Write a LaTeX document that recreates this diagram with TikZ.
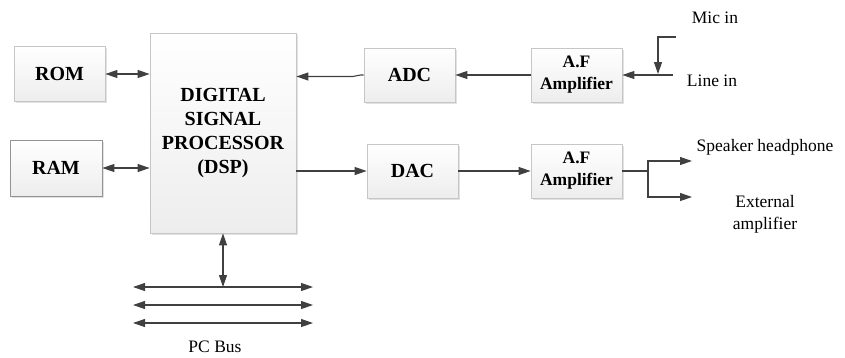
\documentclass[tikz,border=0pt]{standalone}
\usepackage{fontspec}
\setmainfont{Liberation Serif}
\usetikzlibrary{arrows.meta,shadows}
\definecolor{linec}{HTML}{404040}
\tikzset{
  blk/.style={draw=gray!45, line width=0.8pt, top color=white, bottom color=gray!14,
    drop shadow={shadow xshift=1.5pt, shadow yshift=-1.5pt, fill=gray!45, opacity=0.5},
    align=center, inner sep=0pt, font=\bfseries\fontsize{20}{24}\selectfont},
  afblk/.style={blk, font=\bfseries\fontsize{17.5}{22}\selectfont},
  lbl/.style={font=\fontsize{17.5}{22}\selectfont, align=center, inner sep=0pt},
  arr/.style={draw=linec, line width=1.1pt, -{Triangle[length=12pt,width=8pt]}},
  darr/.style={draw=linec, line width=1.1pt, {Triangle[length=12pt,width=8pt]}-{Triangle[length=12pt,width=8pt]}},
  ln/.style={draw=linec, line width=1.1pt}
}
\begin{document}
\begin{tikzpicture}[x=1pt,y=-1pt]
\useasboundingbox (0,0) rectangle (845,357);
\node[blk, minimum width=91pt, minimum height=55pt] (rom) at (59.5,74) {ROM};
\node[blk, draw=gray!85, minimum width=92pt, minimum height=56pt] (ram) at (56,168) {RAM};
\node[blk, minimum width=146pt, minimum height=200pt] (dsp) at (223,133) {DIGITAL\\SIGNAL\\PROCESSOR\\(DSP)};
\node[blk, minimum width=91pt, minimum height=54pt] (adc) at (409.5,75) {ADC};
\node[afblk, minimum width=91pt, minimum height=54pt] (af1) at (576.5,75) {A.F\\Amplifier};
\node[blk, minimum width=91pt, minimum height=54pt] (dac) at (412.5,171) {DAC};
\node[afblk, minimum width=91pt, minimum height=54pt] (af2) at (576.5,171) {A.F\\Amplifier};

\draw[darr] (rom.east) -- (rom.east -| dsp.west);
\draw[darr] (ram.east) -- (ram.east -| dsp.west);
\draw[arr] (adc.west) -- ++(-3,0) .. controls +(-3,0) and +(3,0) .. ++(-8,1.5) coordinate (kink) -- (kink -| dsp.east);
\draw[arr] (af1.west) -- (adc.east);
\draw[arr] (dac.west -| dsp.east) -- (dac.west);
\draw[arr] (dac.east) -- (af2.west);

% inputs
\coordinate (linein) at (673,75);
\coordinate (micin) at (676,37);
\coordinate (micj) at (658,74);
\draw[arr] (linein) -- (af1.east);
\draw[arr] (micin) -- (micin -| micj) -- (micj);
\node[lbl] (mictxt) at (715,18) {Mic in};
\node[lbl] (linetxt) at (712,81) {Line in};

% outputs
\coordinate (fk) at (648,171);
\coordinate (spk) at (692,161);
\coordinate (ext) at (692,197);
\draw[ln] (af2.east) -- (fk);
\draw[arr] (fk) |- (spk);
\draw[arr] (fk) |- (ext);
\node[lbl] (spktxt) at (765,147) {Speaker headphone};
\node[lbl] (exttxt) at (765,214) {External\\amplifier};

% PC bus
\coordinate (b1l) at (133,287); \coordinate (b1r) at (313,287);
\coordinate (b2l) at (133,305); \coordinate (b2r) at (313,305);
\coordinate (b3l) at (133,323); \coordinate (b3r) at (313,323);
\draw[darr] (dsp.south) -- (dsp.south |- b1l);
\draw[darr] (b1l) -- (b1r);
\draw[darr] (b2l) -- (b2r);
\draw[darr] (b3l) -- (b3r);
\node[lbl] (bustxt) at (215,347) {PC Bus};
\end{tikzpicture}
\end{document}
